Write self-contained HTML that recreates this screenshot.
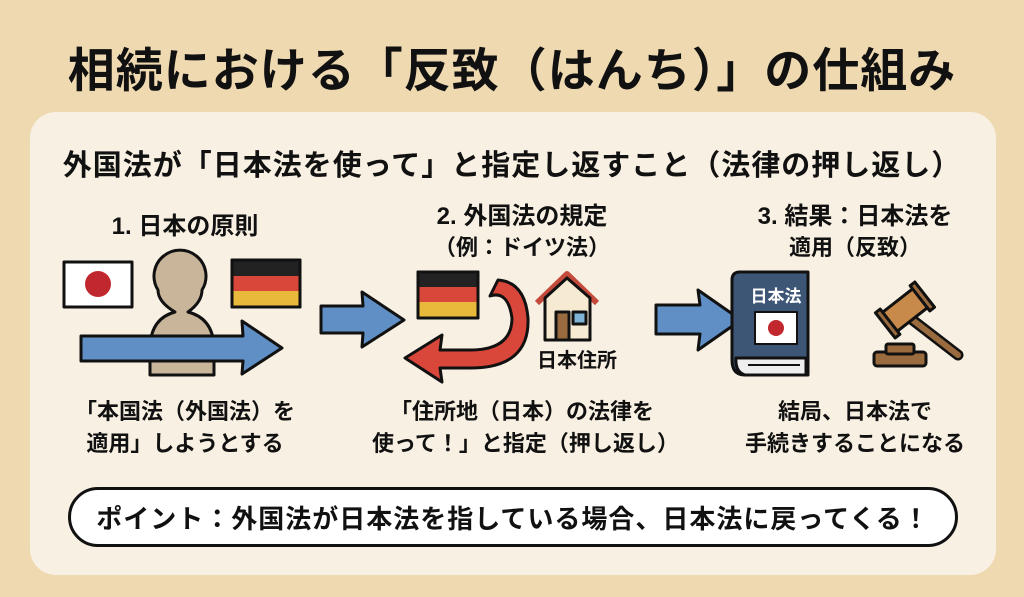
<!DOCTYPE html>
<html><head><meta charset="utf-8"><style>
body{margin:0;width:1024px;height:597px;background:#eed9b0;font-family:"Liberation Sans","Noto Sans CJK JP",sans-serif;position:relative;overflow:hidden;color:#111}
.t{position:absolute;white-space:nowrap;font-weight:bold;text-align:center}
.panel{position:absolute;left:30px;top:112px;width:966px;height:463px;background:#f8f0e2;border-radius:26px}
.pill{position:absolute;left:68px;top:487px;width:884px;height:54px;border:3px solid #111;border-radius:30px;background:#fff}
</style></head><body>
<div class="t" style="left:0;width:1024px;top:32px;font-size:47px;letter-spacing:1px">相続における「反致（はんち）」の仕組み</div>
<div class="panel"></div>
<div class="t" style="left:0;width:1024px;top:142px;font-size:29px;letter-spacing:1px">外国法が「日本法を使って」と指定し返すこと（法律の押し返し）</div>
<div class="t" style="left:85px;width:200px;top:206px;font-size:24px">1. 日本の原則</div>
<div class="t" style="left:392px;width:260px;top:196px;font-size:24px">2. 外国法の規定</div>
<div class="t" style="left:392px;width:260px;top:230px;font-size:22px">（例：ドイツ法）</div>
<div class="t" style="left:725px;width:260px;top:196px;font-size:24px">3. 結果：日本法を</div>
<div class="t" style="left:725px;width:260px;top:230px;font-size:22px">適用（反致）</div>
<svg style="position:absolute;left:0;top:0" width="1024" height="597">
<g stroke="#111" stroke-width="3" stroke-linejoin="round">
<rect x="64" y="262" width="68" height="45" fill="#fff"/><circle cx="98" cy="284" r="13" fill="#c0282e" stroke="none"/>
<path d="M150 375 L150 345 Q152 318 175 312 Q158 302 158 290 A26 26 0 1 1 202 290 Q202 302 188 312 Q212 318 214 345 L214 375 Z" fill="#c8b59a"/>
<rect x="232" y="260" width="68" height="47" fill="#e8b93a"/><rect x="232" y="260" width="68" height="16" fill="#222" stroke="none"/><rect x="233" y="276" width="66" height="15" fill="#d9473b" stroke="none"/><rect x="232" y="260" width="68" height="47" fill="none"/>
<path d="M81 336 L243 336 L242 321 L282 348 L242 374 L243 361 L81 361 Z" fill="#5f8fc4"/>
<path d="M321 306 L363 306 L362 292 L404 320 L362 347 L363 333 L321 333 Z" fill="#5f8fc4"/>
<rect x="418" y="272" width="60" height="46" fill="#e8b93a"/><rect x="418" y="272" width="60" height="15" fill="#222" stroke="none"/><rect x="419" y="287" width="58" height="15" fill="#d9473b" stroke="none"/><rect x="418" y="272" width="60" height="46" fill="none"/>
<path d="M490 296 Q508 290 512 318 Q512 350 470 350 L440 350 L442 335 L405 358 L442 382 L440 368 L470 368 Q530 368 528 318 Q525 282 498 280 Z" fill="#d9473b"/>
<path d="M537 303 L567 274 L597 303" fill="none" stroke="#c44a3c" stroke-width="6"/>
<path d="M545 298 L545 340 L590 340 L590 298 L567 278 Z" fill="#f6ead3"/>
<rect x="556" y="312" width="13" height="28" fill="#9a6b3f"/><rect x="573" y="312" width="13" height="12" fill="#7fb4d6"/>
<path d="M656 305 L700 305 L698 290 L741 320 L698 350 L700 334 L656 334 Z" fill="#5f8fc4"/>
<path d="M740 272 L808 272 L808 375 L745 375 Q732 375 732 360 L732 280 Q732 272 740 272 Z" fill="#3e5676"/>
<path d="M736 358 L806 358 L806 375 L745 375 Q735 372 736 358 Z" fill="#eee"/>
<line x1="748" y1="365" x2="800" y2="365" stroke-width="2"/>
<rect x="755" y="312" width="42" height="32" fill="#fff" stroke-width="2"/><circle cx="776" cy="328" r="8" fill="#c0282e" stroke="none"/>
<rect x="874" y="352" width="52" height="14" rx="3" fill="#9a6b3f"/>
<rect x="886" y="344" width="28" height="10" rx="2" fill="#9a6b3f"/>
<line x1="910" y1="318" x2="958" y2="355" stroke="#111" stroke-width="11" stroke-linecap="round"/>
<line x1="910" y1="318" x2="958" y2="355" stroke="#9a6b3f" stroke-width="6" stroke-linecap="round"/>
<g transform="rotate(-38 905 310)"><rect x="885" y="298" width="40" height="24" fill="#c88a4a"/><rect x="880" y="294" width="6" height="32" fill="#9a6b3f"/><rect x="924" y="294" width="6" height="32" fill="#9a6b3f"/></g>
</g>
</svg>
<div class="t" style="left:744px;width:64px;top:282px;font-size:17px;color:#fff">日本法</div>
<div class="t" style="left:520px;width:114px;top:344px;font-size:20px">日本住所</div>
<div class="t" style="left:60px;width:250px;top:396px;font-size:22px;line-height:32px">「本国法（外国法）を<br>適用」しようとする</div>
<div class="t" style="left:372px;width:300px;top:396px;font-size:22px;line-height:32px">「住所地（日本）の法律を<br>使って！」と指定（押し返し）</div>
<div class="t" style="left:715px;width:280px;top:396px;font-size:22px;line-height:32px">結局、日本法で<br>手続きすることになる</div>
<div class="pill"></div>
<div class="t" style="left:68px;width:890px;top:499px;font-size:26px;letter-spacing:1px">ポイント：外国法が日本法を指している場合、日本法に戻ってくる！</div>
</body></html>
